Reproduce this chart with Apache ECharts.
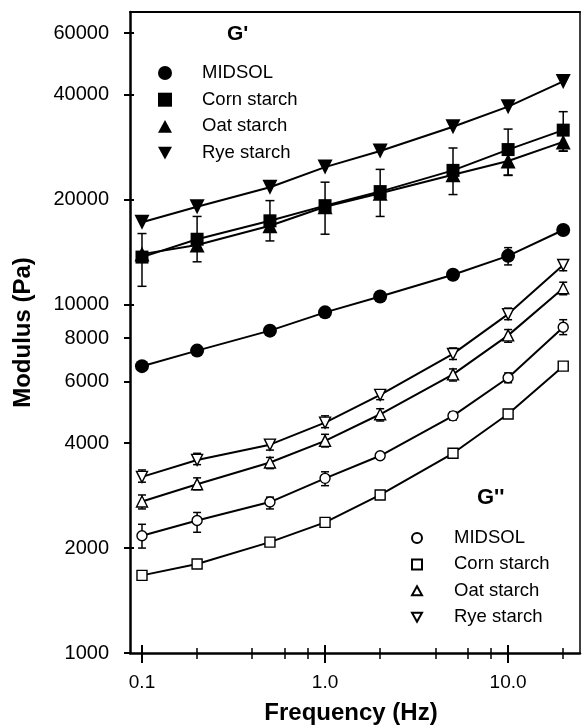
<!DOCTYPE html>
<html>
<head>
<meta charset="utf-8">
<script src="https://cdn.jsdelivr.net/npm/echarts@6/dist/echarts.min.js"></script>
<style>
  html, body { margin: 0; padding: 0; background: #fff; }
  #chart { width: 582px; height: 728px; }
</style>
</head>
<body>
<div id="chart"></div>
<script>
// ---------- data ----------
const freq = [0.1, 0.2, 0.5, 1, 2, 5, 10, 20];

// G' (storage modulus, filled symbols)
const gpMidsol = [6650, 7370, 8410, 9490, 10540, 12160, 13780, 16350];
const gpCorn   = [13670, 15380, 17370, 19200, 21070, 24240, 27810, 31620];
const gpOat    = [13940, 14810, 16810, 19070, 20840, 23550, 25780, 29250];
const gpRye    = [17200, 19070, 21690, 24770, 27550, 32330, 36930, 43610];

// G' error bars (low / high), null = none drawn
const gpMidsolLow  = [null, null, null, null, 10270, null, 12980, null];
const gpMidsolHigh = [null, null, null, null, 10820, null, 14550, null];
const gpCornLow    = [11270, 13250, 15210, 15900, 17880, 20660, 23440, 27550];
const gpCornHigh   = [15970, 17880, 19850, 22420, 24400, 28100, 31840, 35720];
const gpOatLow     = [null, null, null, null, null, null, 23500, 27500];
const gpOatHigh    = [null, null, null, null, null, null, 28300, 31100];

// G'' (loss modulus, open symbols)
const gppMidsol = [2170, 2400, 2710, 3170, 3680, 4790, 6160, 8600];
const gppCorn   = [1670, 1800, 2080, 2370, 2840, 3740, 4850, 6650];
const gppOat    = [2720, 3050, 3520, 4060, 4840, 6300, 8150, 11130];
const gppRye    = [3200, 3580, 3960, 4580, 5500, 7210, 9380, 12980];

const gppMidsolLow  = [2000, 2220, 2590, 3020, null, 4660, 5960, 8190];
const gppMidsolHigh = [2340, 2530, 2800, 3310, null, 4910, 6360, 9040];
const gppOatLow     = [2590, 2940, 3380, 3900, 4630, 6030, 7790, 10660];
const gppOatHigh    = [2840, 3180, 3640, 4240, 5020, 6530, 8470, 11580];
const gppRyeLow     = [3090, 3470, 3820, 4430, 5330, 6950, 9040, 12490];
const gppRyeHigh    = [3350, 3740, 4090, 4790, 5670, 7500, 9760, 13420];

const seriesNames = ['MIDSOL', 'Corn starch', 'Oat starch', 'Rye starch'];

// axis ticks / labels
const xMajorTicks = [0.1, 1, 10];
const xTickLabels = ['0.1', '1.0', '10.0'];
const xMinorTicks = [0.2, 0.4, 0.6, 0.8, 2, 4, 6, 8, 20];
const yTickValues = [1000, 2000, 4000, 6000, 8000, 10000, 20000, 40000, 60000];
const yTickLabels = ['1000', '2000', '4000', '6000', '8000', '10000', '20000', '40000', '60000'];
const yInnerTicks = [2000, 10000, 20000, 40000, 60000];

// ---------- helpers ----------
const FONT = 'Liberation Sans, Arial, sans-serif';
const pairs = arr => freq.map((f, i) => [f, arr[i]]);
const errPairs = (lo, hi) => freq.map((f, i) => [f, lo[i], hi[i]]).filter(d => d[1] != null && d[2] != null);
function nearestLabel(v, vals, labels) {
  let best = 0, bd = Infinity;
  vals.forEach((t, i) => { const d = Math.abs(Math.log10(v) - Math.log10(t)); if (d < bd) { bd = d; best = i; } });
  return labels[best];
}
const X_MIN = 0.086, X_MAX = 24.7, Y_MIN = 1000, Y_MAX = 69000;

function errSeries(name, data, cap) {
  return {
    type: 'custom', name: name, z: 1, silent: true,
    xAxisIndex: 0, yAxisIndex: 0,
    encode: { x: 0, y: [1, 2] },
    data: data,
    renderItem: function (params, api) {
      const x = api.value(0);
      const pHi = api.coord([x, api.value(2)]);
      const pLo = api.coord([x, api.value(1)]);
      const st = { stroke: '#000', lineWidth: 1.5 };
      return {
        type: 'group',
        children: [
          { type: 'line', shape: { x1: pHi[0], y1: pHi[1], x2: pLo[0], y2: pLo[1] }, style: st },
          { type: 'line', shape: { x1: pHi[0] - cap, y1: pHi[1], x2: pHi[0] + cap, y2: pHi[1] }, style: st },
          { type: 'line', shape: { x1: pLo[0] - cap, y1: pLo[1], x2: pLo[0] + cap, y2: pLo[1] }, style: st }
        ]
      };
    }
  };
}

function lineSeries(name, arr, symbol, size, rotate, open) {
  return {
    type: 'line', name: name, z: 3,
    data: pairs(arr),
    symbol: symbol, symbolSize: size, symbolRotate: rotate || 0,
    showAllSymbol: true,
    lineStyle: { color: '#000', width: 2 },
    itemStyle: open ? { color: '#fff', borderColor: '#000', borderWidth: 1.4 }
                    : { color: '#000', borderColor: '#000', borderWidth: 0 },
    emphasis: { disabled: true },
    animation: false
  };
}

const DOWN = 'path://M0,0L10,0L5,9Z';
const UP = 'path://M5,0L10,9L0,9Z';

const gp = s => "G' " + s;
const gpp = s => "G'' " + s;

const tickAxisX = (extra) => Object.assign({
  type: 'log', min: X_MIN, max: X_MAX, position: 'bottom', gridIndex: 0,
  axisLine: { show: false }, splitLine: { show: false },
  axisLabel: { show: false }, minorTick: { show: false }
}, extra);

const option = {
  animation: false,
  backgroundColor: '#fff',
  textStyle: { fontFamily: FONT, color: '#000' },
  grid: { left: 130, right: 2, top: 12, bottom: 75, containLabel: false, outerBoundsMode: 'none' },
  title: [
    { text: "G'", left: 227, top: 24, padding: 0,
      textStyle: { fontFamily: FONT, fontWeight: 'bold', fontSize: 21, color: '#000' } },
    { text: "G''", left: 477, top: 487, padding: 0,
      textStyle: { fontFamily: FONT, fontWeight: 'bold', fontSize: 22, color: '#000' } }
  ],
  legend: [
    {
      orient: 'vertical', left: 158, top: 63, padding: 0, selectedMode: false,
      itemWidth: 14, itemHeight: 14, itemGap: 6.7,
      textStyle: { fontFamily: FONT, fontSize: 18.5, color: '#000', lineHeight: 20, padding: [0, 0, 0, 25] },
      data: [
        { name: gp(seriesNames[0]), icon: 'circle' },
        { name: gp(seriesNames[1]), icon: 'rect' },
        { name: gp(seriesNames[2]), icon: UP },
        { name: gp(seriesNames[3]), icon: DOWN }
      ],
      formatter: n => n.replace(/^G'+ /, '')
    },
    {
      orient: 'vertical', left: 411, top: 528, padding: 0, selectedMode: false,
      itemWidth: 10, itemHeight: 10, itemGap: 6.4,
      textStyle: { fontFamily: FONT, fontSize: 18.5, color: '#000', lineHeight: 20, padding: [0, 0, 0, 27] },
      data: [
        { name: gpp(seriesNames[0]), icon: 'circle' },
        { name: gpp(seriesNames[1]), icon: 'rect' },
        { name: gpp(seriesNames[2]), icon: UP },
        { name: gpp(seriesNames[3]), icon: DOWN }
      ],
      formatter: n => n.replace(/^G'+ /, '')
    }
  ],
  xAxis: [
    {
      type: 'log', min: X_MIN, max: X_MAX, position: 'bottom', gridIndex: 0,
      axisLine: { show: true, onZero: false, lineStyle: { color: '#000', width: 2.5 } },
      axisTick: { show: true, customValues: xMajorTicks, length: 10, lineStyle: { color: '#000', width: 2 } },
      axisLabel: { show: true, customValues: xMajorTicks, margin: 20, fontSize: 19, color: '#000', fontFamily: FONT,
        formatter: v => nearestLabel(v, xMajorTicks, xTickLabels) },
      splitLine: { show: false }, minorTick: { show: false },
      name: 'Frequency (Hz)', nameLocation: 'middle', nameGap: 48,
      nameTextStyle: { fontFamily: FONT, fontWeight: 'bold', fontSize: 24, color: '#000', padding: [0, 8, 0, 0] }
    },
    tickAxisX({ axisTick: { show: true, inside: true, customValues: xMajorTicks, length: 8, lineStyle: { color: '#000', width: 2 } } }),
    tickAxisX({ axisTick: { show: true, customValues: xMinorTicks, length: 6, lineStyle: { color: '#000', width: 1.5 } } }),
    tickAxisX({ axisTick: { show: true, inside: true, customValues: xMinorTicks, length: 5, lineStyle: { color: '#000', width: 1.5 } } }),
    {
      type: 'log', min: X_MIN, max: X_MAX, position: 'top', gridIndex: 0,
      axisLine: { show: true, onZero: false, lineStyle: { color: '#000', width: 2 } },
      axisTick: { show: false }, axisLabel: { show: false }, splitLine: { show: false }
    }
  ],
  yAxis: [
    {
      type: 'log', min: Y_MIN, max: Y_MAX, position: 'left', gridIndex: 0,
      axisLine: { show: true, onZero: false, lineStyle: { color: '#000', width: 2.5 } },
      axisTick: { show: true, customValues: yTickValues, length: 6, lineStyle: { color: '#000', width: 2 } },
      axisLabel: { show: true, customValues: yTickValues, margin: 21, fontSize: 20, color: '#000', fontFamily: FONT,
        formatter: v => nearestLabel(v, yTickValues, yTickLabels) },
      splitLine: { show: false }, minorTick: { show: false },
      name: 'Modulus (Pa)', nameLocation: 'middle', nameGap: 95,
      nameTextStyle: { fontFamily: FONT, fontWeight: 'bold', fontSize: 24, color: '#000' }
    },
    {
      type: 'log', min: Y_MIN, max: Y_MAX, position: 'left', gridIndex: 0,
      axisLine: { show: false }, axisLabel: { show: false }, splitLine: { show: false },
      axisTick: { show: true, inside: true, customValues: yInnerTicks, length: 4, lineStyle: { color: '#000', width: 2 } }
    },
    {
      type: 'log', min: Y_MIN, max: Y_MAX, position: 'right', gridIndex: 0,
      axisLine: { show: true, onZero: false, lineStyle: { color: '#000', width: 1.5 } },
      axisTick: { show: false }, axisLabel: { show: false }, splitLine: { show: false }
    }
  ],
  series: [
    errSeries('errGpMidsol', errPairs(gpMidsolLow, gpMidsolHigh), 4),
    errSeries('errGpCorn', errPairs(gpCornLow, gpCornHigh), 4.5),
    errSeries('errGpOat', errPairs(gpOatLow, gpOatHigh), 4.5),
    errSeries('errGppMidsol', errPairs(gppMidsolLow, gppMidsolHigh), 4),
    errSeries('errGppOat', errPairs(gppOatLow, gppOatHigh), 4),
    errSeries('errGppRye', errPairs(gppRyeLow, gppRyeHigh), 4),

    lineSeries(gp(seriesNames[0]), gpMidsol, 'circle', 14),
    lineSeries(gp(seriesNames[1]), gpCorn, 'rect', 13),
    lineSeries(gp(seriesNames[2]), gpOat, 'triangle', 15),
    lineSeries(gp(seriesNames[3]), gpRye, 'triangle', 15, 180),

    lineSeries(gpp(seriesNames[0]), gppMidsol, 'circle', 10, 0, true),
    lineSeries(gpp(seriesNames[1]), gppCorn, 'rect', 10, 0, true),
    lineSeries(gpp(seriesNames[2]), gppOat, 'triangle', 11, 0, true),
    lineSeries(gpp(seriesNames[3]), gppRye, 'triangle', 11, 180, true)
  ]
};

const chart = echarts.init(document.getElementById('chart'), null, { renderer: 'canvas' });
chart.setOption(option);
</script>
</body>
</html>
